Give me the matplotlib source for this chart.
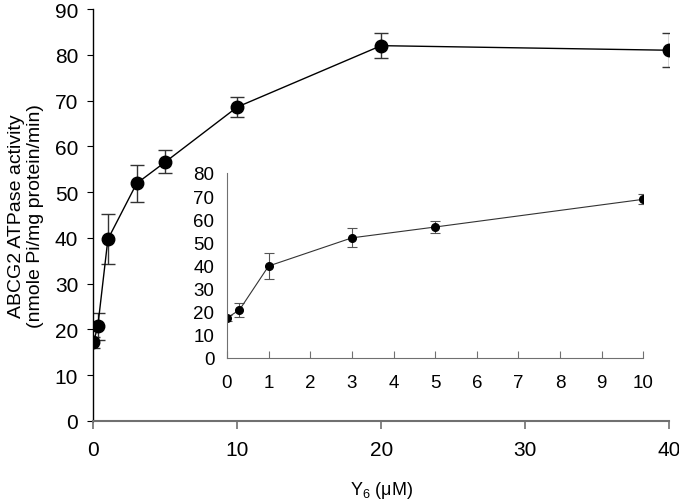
import matplotlib
matplotlib.use("Agg")
import matplotlib.pyplot as plt

plt.rcParams["font.family"] = ["Liberation Sans", "DejaVu Sans"]
plt.rcParams["mathtext.fontset"] = "custom"
plt.rcParams["mathtext.rm"] = "Liberation Sans"

# Y6 concentration (uM) and ABCG2 ATPase activity
conc = [0, 0.3, 1, 3, 5, 10, 20, 40]
activity = [17.2, 20.7, 39.7, 51.9, 56.6, 68.6, 82.0, 81.0]
err = [1.2, 2.9, 5.5, 4.1, 2.5, 2.2, 2.7, 3.7]

main_xticks = [0, 10, 20, 30, 40]
main_yticks = [0, 10, 20, 30, 40, 50, 60, 70, 80, 90]
inset_xticks = [0, 1, 2, 3, 4, 5, 6, 7, 8, 9, 10]
inset_yticks = [0, 10, 20, 30, 40, 50, 60, 70, 80]

fig = plt.figure(figsize=(6.79, 5.02), dpi=100)
ax = fig.add_axes([0.1377, 0.1594, 0.8473, 0.8206])

ax.errorbar(conc, activity, yerr=err, color="black", lw=1.0,
            marker="o", markersize=9, capsize=5, elinewidth=1.0,
            ecolor="#333333", capthick=1.0)
ax.set_xlim(0, 40)
ax.set_ylim(0, 90)
ax.set_xticks(main_xticks)
ax.set_yticks(main_yticks)
ax.spines["top"].set_visible(False)
ax.spines["right"].set_visible(False)
ax.spines["bottom"].set_color("#707070")
ax.spines["bottom"].set_linewidth(1.5)
ax.spines["left"].set_linewidth(1.0)
ax.tick_params(axis="both", direction="out", labelsize=15)
ax.tick_params(axis="y", length=4.5, pad=6.5)
ax.tick_params(axis="x", length=6, color="#707070", width=1.2, pad=8)
ax.set_xlabel("Y$_\\mathregular{6}$ (μM)", fontsize=13, labelpad=14)
ax.set_ylabel("ABCG2 ATPase activity\n(nmole Pi/mg protein/min)",
              fontsize=14, labelpad=8, linespacing=1.1)

# inset: low concentration range
ins = fig.add_axes([0.3343, 0.2855, 0.6131, 0.3679])
n = 6
ins.errorbar(conc[:n], activity[:n], yerr=err[:n], color="#333333", lw=0.8,
             marker="o", markersize=5.5, markerfacecolor="black",
             markeredgecolor="black", capsize=3.5, elinewidth=0.8,
             ecolor="#555555", capthick=0.8)
ins.set_xlim(0, 10)
ins.set_ylim(0, 80)
ins.set_xticks(inset_xticks)
ins.set_yticks(inset_yticks)
ins.patch.set_alpha(0)
ins.spines["top"].set_visible(False)
ins.spines["right"].set_visible(False)
ins.spines["left"].set_color("#707070")
ins.spines["bottom"].set_color("#707070")
ins.tick_params(axis="x", direction="in", length=5, color="#707070",
                labelsize=13.5, pad=12)
ins.tick_params(axis="y", length=0, labelsize=13.5, pad=9)

fig.savefig("out.png", dpi=100)
